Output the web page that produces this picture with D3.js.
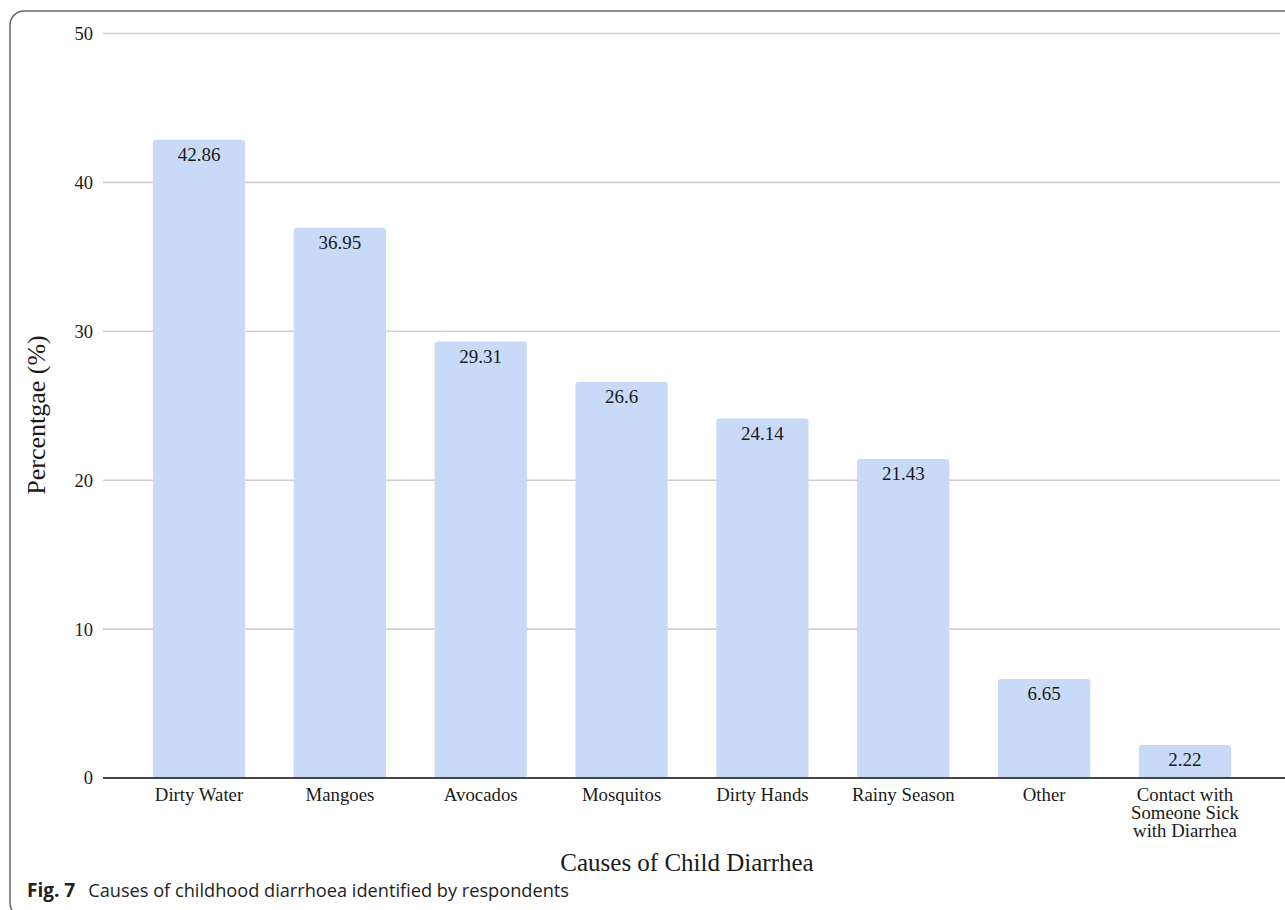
<!DOCTYPE html>
<html>
<head>
<meta charset="utf-8">
<script src="https://cdn.jsdelivr.net/npm/d3@7/dist/d3.min.js"></script>
<style>
  html, body { margin: 0; padding: 0; background: #ffffff; }
  svg { display: block; }
</style>
</head>
<body>
<svg id="chart" width="1285" height="910"></svg>
<script>
// Causes of childhood diarrhoea reported by respondents (%)
const categories = [
  ["Dirty Water"],
  ["Mangoes"],
  ["Avocados"],
  ["Mosquitos"],
  ["Dirty Hands"],
  ["Rainy Season"],
  ["Other"],
  ["Contact with", "Someone Sick", "with Diarrhea"]
];
const values = [42.86, 36.95, 29.31, 26.6, 24.14, 21.43, 6.65, 2.22];
const yTicks = [0, 10, 20, 30, 40, 50];

const svg = d3.select("#chart");
const serif = "'Liberation Serif', 'Times New Roman', serif";

// Outer figure frame (rounded corners on the left side)
svg.append("rect")
  .attr("x", 10).attr("y", 11)
  .attr("width", 1300).attr("height", 906)
  .attr("rx", 14).attr("ry", 14)
  .attr("fill", "none")
  .attr("stroke", "#666")
  .attr("stroke-width", 1.5);

const plotLeft = 103, plotRight = 1280;
const y = d3.scaleLinear().domain([0, 50]).range([778, 33.5]);

const keys = categories.map(c => c.join(" "));
const x = d3.scaleBand()
  .domain(keys)
  .range([128.6, 1255.4])
  .paddingInner(0.345)
  .paddingOuter(0.1725);

// Horizontal gridlines
svg.append("g")
  .selectAll("line")
  .data(yTicks.filter(t => t !== 0))
  .join("line")
  .attr("x1", plotLeft).attr("x2", plotRight)
  .attr("y1", d => y(d)).attr("y2", d => y(d))
  .attr("stroke", "#cfcfcf")
  .attr("stroke-width", 1.6);

// Y axis labels
const yAxis = svg.append("g")
  .attr("transform", `translate(${plotLeft},0)`)
  .call(d3.axisLeft(y).tickValues(yTicks).tickSize(0).tickPadding(10).tickFormat(d3.format("d")));
yAxis.select(".domain").remove();
yAxis.selectAll("text")
  .attr("font-family", serif)
  .attr("font-size", 18.5)
  .attr("fill", "#1a1a1a");

// Bars with slightly rounded tops
const r = 3;
svg.append("g")
  .selectAll("path")
  .data(values)
  .join("path")
  .attr("fill", "#c9daf8")
  .attr("d", (d, i) => {
    const x0 = x(keys[i]), w = x.bandwidth();
    const top = y(d), base = y(0);
    return `M${x0},${base}V${top + r}Q${x0},${top} ${x0 + r},${top}` +
           `H${x0 + w - r}Q${x0 + w},${top} ${x0 + w},${top + r}V${base}Z`;
  });

// Value labels inside the top of each bar
svg.append("g")
  .selectAll("text")
  .data(values)
  .join("text")
  .attr("x", (d, i) => x(keys[i]) + x.bandwidth() / 2)
  .attr("y", d => y(d) + 21)
  .attr("text-anchor", "middle")
  .attr("font-family", serif)
  .attr("font-size", 19)
  .attr("fill", "#1a1a1a")
  .text(d => d);

// Baseline
svg.append("line")
  .attr("x1", plotLeft).attr("x2", plotRight + 5)
  .attr("y1", y(0)).attr("y2", y(0))
  .attr("stroke", "#444")
  .attr("stroke-width", 2);

// X axis category labels (multi-line where needed)
const xAxis = svg.append("g")
  .attr("transform", `translate(0,${y(0)})`)
  .call(d3.axisBottom(x).tickSize(0).tickFormat(() => ""));
xAxis.select(".domain").remove();
xAxis.selectAll(".tick").each(function(d, i) {
  const t = d3.select(this).append("text")
    .attr("text-anchor", "middle")
    .attr("font-family", serif)
    .attr("font-size", 18.8)
    .attr("fill", "#1a1a1a");
  categories[i].forEach((line, j) => {
    t.append("tspan").attr("x", 0).attr("y", 23 + j * 18).text(line);
  });
});

// Axis titles
svg.append("text")
  .attr("x", 687).attr("y", 871)
  .attr("text-anchor", "middle")
  .attr("font-family", serif)
  .attr("font-size", 25)
  .attr("fill", "#1a1a1a")
  .text("Causes of Child Diarrhea");

svg.append("text")
  .attr("transform", "translate(45,415) rotate(-90)")
  .attr("text-anchor", "middle")
  .attr("font-family", serif)
  .attr("font-size", 26)
  .attr("fill", "#1a1a1a")
  .text("Percentgae (%)");

// Figure caption
const cap = svg.append("text")
  .attr("x", 27).attr("y", 897)
  .attr("font-family", "'Open Sans', 'Noto Sans', sans-serif")
  .attr("font-size", 18.2)
  .attr("fill", "#222");
cap.append("tspan").attr("font-weight", "bold").attr("font-size", 19).text("Fig. 7");
cap.append("tspan").attr("dx", 13).text("Causes of childhood diarrhoea identified by respondents");
</script>
</body>
</html>
